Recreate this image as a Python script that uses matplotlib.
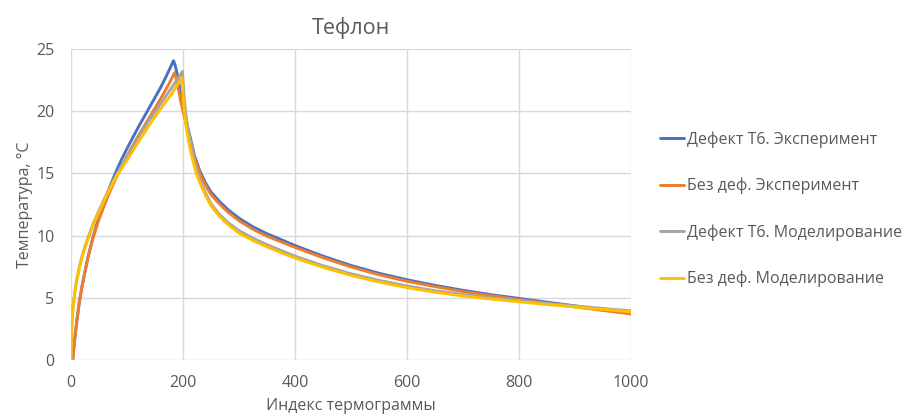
import matplotlib
matplotlib.use("Agg")
import matplotlib.pyplot as plt

plt.rcParams['font.family'] = ['Open Sans', 'DejaVu Sans']

title = "Тефлон"
x_label = "Индекс термограммы"
y_label = "Температура, °C"
x_ticks = [0, 200, 400, 600, 800, 1000]
y_ticks = [0, 5, 10, 15, 20, 25]

# Дефект Т6. Эксперимент
defect_exp_x = [0, 3, 6, 10, 15, 20, 30, 40, 50, 60, 70, 80, 90, 100, 120, 140, 160, 170, 183,
                186, 190, 195, 200, 205, 210, 215, 220, 230, 240, 250, 265, 280, 300, 325,
                350, 375, 400, 450, 500, 550, 600, 650, 700, 750, 800, 850, 900, 950, 1000]
defect_exp_y = [0.0, 0.0, 1.4, 3.0, 4.7, 6.0, 8.2, 10.0, 11.5, 12.8, 14.0, 15.1, 16.1, 17.0,
                18.7, 20.3, 21.9, 22.8, 24.06,
                23.7, 22.9, 21.6, 20.4, 19.4, 18.4, 17.5, 16.5, 15.2, 14.25, 13.5, 12.75,
                12.1, 11.4, 10.7, 10.15, 9.68, 9.2, 8.35, 7.6, 6.97, 6.45, 6.0, 5.6, 5.25,
                4.95, 4.65, 4.35, 4.05, 3.78]

# Без деф. Эксперимент
nodef_exp_x = [0, 3, 6, 10, 15, 20, 30, 40, 50, 60, 70, 80, 90, 100, 120, 140, 160, 175, 185,
               188, 192, 196, 200, 205, 210, 215, 220, 230, 240, 250, 265, 280, 300, 325,
               350, 375, 400, 450, 500, 550, 600, 650, 700, 750, 800, 850, 900, 950, 1000]
nodef_exp_y = [0.0, 0.0, 1.4, 3.0, 4.7, 6.0, 8.2, 9.9, 11.3, 12.5, 13.6, 14.6, 15.5, 16.4,
               18.0, 19.5, 21.0, 22.2, 23.1,
               22.6, 21.7, 20.8, 20.0, 19.1, 18.2, 17.35, 16.35, 15.0, 14.05, 13.3, 12.55,
               11.9, 11.2, 10.5, 9.95, 9.5, 9.05, 8.22, 7.48, 6.85, 6.33, 5.9, 5.5, 5.17,
               4.86, 4.56, 4.27, 3.98, 3.7]

# Дефект Т6. Моделирование
defect_sim_x = [0, 1, 2, 4, 7, 10, 15, 20, 30, 40, 50, 60, 70, 80, 90, 100, 120, 140, 160,
                180, 199,
                201, 203, 206, 211, 216, 223, 230, 240, 250, 265, 280, 300, 325, 350, 375,
                400, 450, 500, 550, 600, 650, 700, 750, 800, 850, 900, 950, 1000]
defect_sim_y = [0.0, 2.5, 3.3, 4.5, 5.5, 6.4, 7.5, 8.4, 9.8, 11.0, 12.0, 13.0, 13.9, 14.8,
                15.6, 16.3, 17.8, 19.3, 20.6, 21.9, 23.2,
                21.7, 20.6, 19.4, 18.0, 16.9, 15.5, 14.5, 13.45, 12.55, 11.7, 11.05, 10.4,
                9.78, 9.27, 8.8, 8.35, 7.58, 6.93, 6.4, 5.95, 5.57, 5.27, 5.0, 4.78, 4.55,
                4.34, 4.14, 3.95]

# Без деф. Моделирование
nodef_sim_x = [0, 1, 2, 4, 7, 10, 15, 20, 30, 40, 50, 60, 70, 80, 92, 100, 120, 140, 160,
               180, 198,
               200, 202, 205, 210, 215, 223, 230, 240, 250, 265, 280, 300, 325, 350, 375,
               400, 450, 500, 550, 600, 650, 700, 750, 800, 850, 900, 950, 1000]
nodef_sim_y = [0.0, 2.5, 3.3, 4.4, 5.4, 6.3, 7.4, 8.3, 9.7, 10.9, 11.9, 12.9, 13.8, 14.7,
               15.5, 16.05, 17.5, 18.9, 20.2, 21.4, 22.7,
               21.3, 20.2, 19.0, 17.6, 16.5, 15.1, 14.25, 13.25, 12.4, 11.55, 10.9, 10.2,
               9.6, 9.1, 8.63, 8.2, 7.45, 6.8, 6.27, 5.82, 5.45, 5.15, 4.9, 4.68, 4.46,
               4.26, 4.07, 3.88]

series = [
    ("Дефект Т6. Эксперимент", defect_exp_x, defect_exp_y, "#4472C4"),
    ("Без деф. Эксперимент", nodef_exp_x, nodef_exp_y, "#ED7D31"),
    ("Дефект Т6. Моделирование", defect_sim_x, defect_sim_y, "#A5A5A5"),
    ("Без деф. Моделирование", nodef_sim_x, nodef_sim_y, "#FFC000"),
]

text_color = "#595959"
grid_color = "#D9D9D9"
small = 11.5

fig = plt.figure(figsize=(9.11, 4.16), dpi=100)
ax = fig.add_axes([71 / 911, 1 - 360 / 416, 560 / 911, 311 / 416])

lines = []
for label, xs, ys, color in series:
    ln, = ax.plot(xs, ys, color=color, lw=2.1, label=label,
                  solid_joinstyle="round", solid_capstyle="round")
    lines.append(ln)

ax.set_xlim(0, 1000)
ax.set_ylim(0, 25)
ax.set_xticks(x_ticks)
ax.set_yticks(y_ticks)
ax.grid(True, color=grid_color, lw=1.0)
ax.set_axisbelow(True)
for sp in ax.spines.values():
    sp.set_visible(False)
ax.tick_params(axis="x", length=0, colors=text_color, labelsize=small, pad=11)
ax.tick_params(axis="y", length=0, colors=text_color, labelsize=small, pad=12)

ax.set_title(title, fontsize=15.5, color=text_color, pad=11)
ax.set_xlabel(x_label, fontsize=small, color=text_color, labelpad=5)
ax.set_ylabel(y_label, fontsize=small, color=text_color, labelpad=2)

fig.legend(handles=lines, loc="upper left", bbox_to_anchor=(654 / 911, 1 - 125 / 416),
           frameon=False, fontsize=small, labelcolor=text_color, handlelength=1.45,
           handletextpad=0.2, labelspacing=1.88, borderaxespad=0)

fig.savefig("out.png", dpi=100)
